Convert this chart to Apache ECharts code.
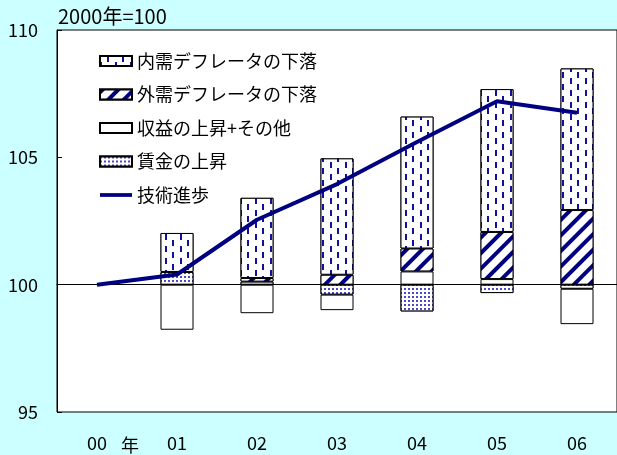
<!DOCTYPE html>
<html>
<head>
<meta charset="utf-8">
<script src="https://cdn.jsdelivr.net/npm/echarts@6/dist/echarts.min.js"></script>
<style>
  html, body { margin: 0; padding: 0; background: #ccffff; }
  #chart { width: 617px; height: 455px; }
</style>
</head>
<body>
<div id="chart"></div>
<script>
var years = ['00', '01', '02', '03', '04', '05', '06']
var yTicks = [95, 100, 105, 110]

// 2000年=100 からの寄与（積み上げ）
var wageRise = ['-', 0.5, 0.12, -0.39, -1.05, -0.33, -0.16]
var profitOther = ['-', -1.77, -1.12, -0.61, 0.52, 0.22, -1.39]
var externalDeflator = ['-', '-', 0.14, 0.39, 0.9, 1.85, 2.93]
var domesticDeflator = ['-', 1.53, 3.15, 4.57, 5.18, 5.61, 5.56]
var techProgress = [100, 100.4, 102.55, 103.95, 105.6, 107.2, 106.75]

var FONT = 'Noto Sans CJK JP'
var NAVY = '#000080'
var BASE = 100

var chart = echarts.init(document.getElementById('chart'))

// 棒は 100 からの差分で積み上げ、軸ラベルで 100 を足す
var barBase = {
  type: 'bar',
  stack: 'total',
  barWidth: 33,
  itemStyle: {
    color: '#fff',
    borderColor: '#000',
    borderWidth: 1
  }
}

chart.setOption({
  backgroundColor: '#ccffff',
  textStyle: { fontFamily: FONT },
  animation: false,
  grid: {
    left: 57,
    right: -4,
    top: 30,
    bottom: 43,
    show: true,
    backgroundColor: '#fff',
    borderColor: '#000',
    borderWidth: 1
  },
  legend: {
    orient: 'vertical',
    left: 94,
    top: 47,
    itemWidth: 32,
    itemHeight: 10,
    itemGap: 15.5,
    textStyle: { fontFamily: FONT, fontSize: 18, color: '#000' },
    data: [
      { name: '内需デフレータの下落', icon: 'rect' },
      { name: '外需デフレータの下落', icon: 'rect' },
      { name: '収益の上昇+その他', icon: 'rect' },
      { name: '賃金の上昇', icon: 'rect' },
      { name: '技術進歩', icon: 'path://M0,0 H34 V4 H0 Z' }
    ]
  },
  graphic: [
    {
      type: 'text',
      left: 58,
      top: 6,
      style: { text: '2000年=100', font: '20px "' + FONT + '"', fill: '#000' }
    },
    {
      type: 'text',
      left: 121,
      top: 436,
      style: { text: '年', font: '18px "' + FONT + '"', fill: '#000' }
    }
  ],
  xAxis: {
    type: 'category',
    data: years,
    axisTick: { show: false },
    axisLine: { lineStyle: { color: '#000' } },
    axisLabel: { color: '#000', fontSize: 18, fontFamily: FONT, margin: 22 }
  },
  yAxis: {
    type: 'value',
    min: yTicks[0] - BASE,
    max: yTicks[yTicks.length - 1] - BASE,
    interval: 5,
    axisLine: { show: true, lineStyle: { color: '#000' } },
    axisTick: { show: true, inside: true, length: 5, lineStyle: { color: '#000' } },
    splitLine: { show: false },
    axisLabel: {
      color: '#000',
      fontSize: 18,
      fontFamily: FONT,
      margin: 19,
      formatter: function (v) { return String(v + BASE) }
    }
  },
  series: [
    Object.assign({}, barBase, {
      name: '賃金の上昇',
      data: wageRise,
      itemStyle: Object.assign({}, barBase.itemStyle, {
        decal: {
          symbol: 'rect',
          symbolSize: 1,
          symbolKeepAspect: false,
          color: '#4a4ac8',
          backgroundColor: '#fff',
          dashArrayX: [2, 2],
          dashArrayY: [2, 2],
          rotation: 0
        }
      }),
      markLine: {
        silent: true,
        symbol: 'none',
        label: { show: false },
        lineStyle: { color: '#000', width: 1, type: 'solid' },
        data: [{ yAxis: 0 }]
      }
    }),
    Object.assign({}, barBase, {
      name: '収益の上昇+その他',
      data: profitOther
    }),
    Object.assign({}, barBase, {
      name: '外需デフレータの下落',
      data: externalDeflator,
      itemStyle: Object.assign({}, barBase.itemStyle, {
        decal: {
          symbol: 'rect',
          symbolSize: 1,
          symbolKeepAspect: false,
          color: NAVY,
          backgroundColor: '#fff',
          dashArrayX: [1, 0],
          dashArrayY: [4, 7],
          rotation: -Math.PI / 4
        }
      })
    }),
    Object.assign({}, barBase, {
      name: '内需デフレータの下落',
      data: domesticDeflator,
      itemStyle: Object.assign({}, barBase.itemStyle, {
        decal: {
          symbol: 'rect',
          symbolSize: 1,
          symbolKeepAspect: false,
          color: '#10109a',
          backgroundColor: '#fff',
          dashArrayX: [[2, 13], [0, 7, 2, 6]],
          dashArrayY: [6, 0],
          rotation: 0
        }
      })
    }),
    {
      name: '技術進歩',
      type: 'line',
      data: techProgress.map(function (v) { return +(v - BASE).toFixed(2) }),
      symbol: 'none',
      z: 5,
      lineStyle: { color: NAVY, width: 4 },
      itemStyle: { color: NAVY }
    }
  ]
})
</script>
</body>
</html>
